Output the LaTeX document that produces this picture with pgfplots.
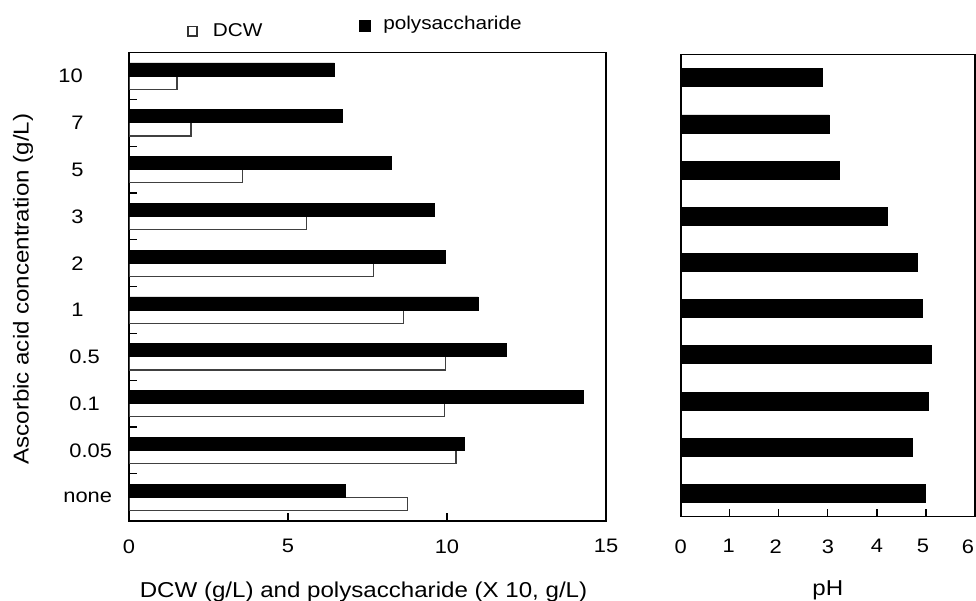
\documentclass[border=0pt]{standalone}
\usepackage{fontspec}
\setmainfont{Liberation Sans}[FakeStretch=1.12]
\usepackage{pgfplots}
\pgfplotsset{compat=1.18}
\begin{document}
\begin{tikzpicture}
\path[use as bounding box] (0,0) rectangle (488bp,300.5bp);
\pgfplotsset{
  myaxis/.style={
    scale only axis,
    axis line style={line width=0.8bp, black},
    tick style={line width=0.6bp, black},
    tick align=inside,
    major tick length=0pt,
    minor tick length=4bp,
    ymin=-0.5, ymax=9.5,
    /pgf/number format/assume math mode=true,
    xticklabel style={font=\fontsize{9.8}{10}\selectfont, anchor=north, inner sep=0pt},
    label style={font=\fontsize{10.8}{12}\selectfont, inner sep=0pt},
  }
}
\begin{axis}[myaxis,
  at={(64.5bp,40.15bp)}, anchor=south west,
  width=238.5bp, height=234bp,
  xmin=0, xmax=15,
  xtick={0,5,10,15}, minor xtick={5,10},
  xtick pos=lower,
  xticklabel style={yshift=-9.2bp},
  ytick={0,...,9}, minor ytick={0.5,1.5,...,8.5},
  ytick pos=left,
  yticklabels={\hspace*{-3.5bp}none,\hspace*{-0.5bp}0.05,\hspace*{-0.5bp}0.1,\hspace*{-0.5bp}0.5,\hspace*{0.5bp}1,\hspace*{0.5bp}2,\hspace*{0.5bp}3,\hspace*{0.5bp}5,\hspace*{0.5bp}7,\hspace*{-6bp}10},
  yticklabel style={font=\fontsize{9.8}{10}\selectfont, anchor=west, inner sep=0pt, xshift=-29.5bp},
  xlabel={DCW (g/L) and polysaccharide (X 10, g/L)},
  xlabel style={at={(axis description cs:0.5,0)}, anchor=base, yshift=-38.3bp, xshift=-2bp},
  ylabel={Ascorbic acid concentration (g/L)},
  ylabel style={at={(axis description cs:-0.222,0.495)}, anchor=center},
  legend columns=2,
  legend style={draw=none, fill=none, inner sep=0pt, outer sep=0pt,
    at={(axis description cs:0.1216,1)}, anchor=south west, yshift=8bp,
    column sep=0pt, font=\fontsize{9.3}{10}\selectfont,
    nodes={inner sep=0pt, anchor=base}},
]
\addplot[xbar, bar width=0.28, bar shift=-0.14, fill=white, draw=black!75, line width=0.6bp,
  legend image code/.code={\draw[black!80, line width=0.75bp, fill=white] (0bp,-3.3bp) rectangle (4.6bp,1.3bp);}]
  coordinates {(8.77,0) (10.28,1) (9.92,2) (9.95,3) (8.64,4) (7.70,5) (5.59,6) (3.58,7) (1.95,8) (1.51,9)};
\addlegendentry{\hspace*{7.6bp}\raisebox{-3.35bp}{DCW}\hspace*{48.3bp}}
\addplot[xbar, bar width=0.28, bar shift=0.14, fill=black, draw=black, line width=0.4bp,
  legend image code/.code={\fill[black] (0bp,-1.0bp) rectangle (5.5bp,4.5bp);}]
  coordinates {(6.82,0) (10.56,1) (14.30,2) (11.88,3) (10.98,4) (9.96,5) (9.60,6) (8.26,7) (6.70,8) (6.46,9)};
\addlegendentry{\hspace*{6.2bp}polysaccharide}
\end{axis}
\begin{axis}[myaxis,
  at={(340.35bp,42.25bp)}, anchor=south west,
  width=147.15bp, height=230.9bp,
  xmin=0, xmax=6,
  xtick={0,...,6}, minor xtick={1,...,5},
  xticklabels={0,\hspace*{-1bp}1,\hspace*{-3bp}2,3,4,\hspace*{-3bp}5,\hspace*{-7bp}6},
  xtick pos=lower,
  xticklabel style={yshift=-11.25bp},
  ytick=\empty,
  xlabel={pH},
  xlabel style={at={(axis description cs:0.5,0)}, anchor=base, yshift=-39.25bp},
]
\addplot[xbar, bar width=0.39, bar shift=0, fill=black, draw=black, line width=0.4bp]
  coordinates {(4.98,0) (4.73,1) (5.04,2) (5.11,3) (4.93,4) (4.83,5) (4.22,6) (3.23,7) (3.03,8) (2.89,9)};
\end{axis}
\end{tikzpicture}
\end{document}
